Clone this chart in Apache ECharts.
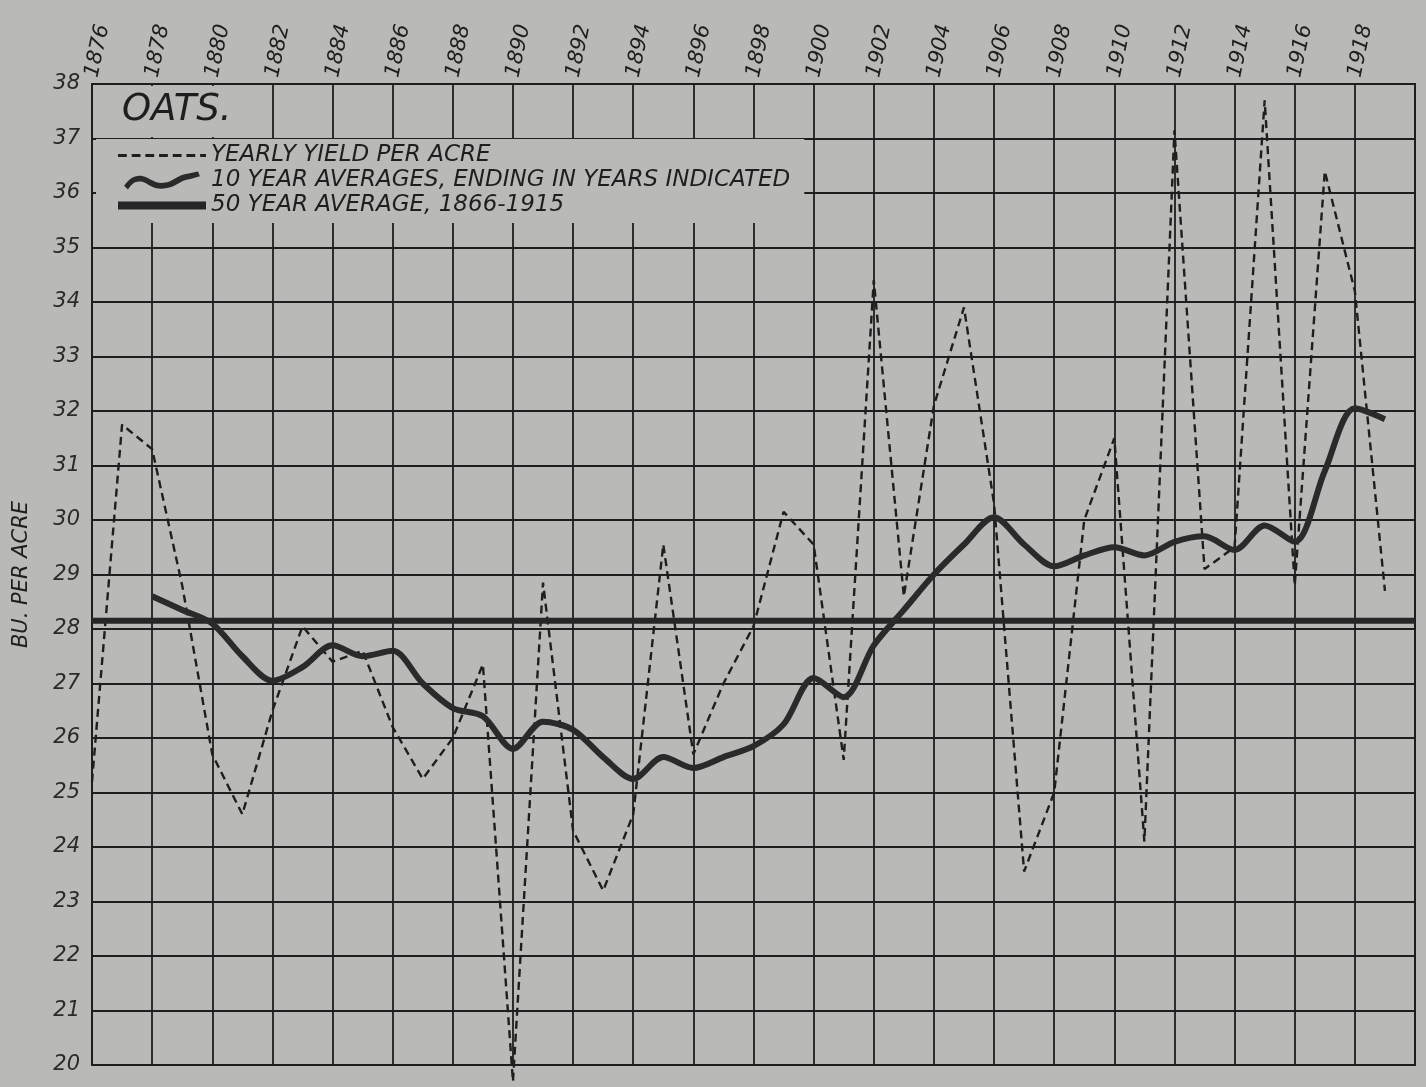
<!DOCTYPE html>
<html>
<head>
<meta charset="utf-8">
<script src="https://cdn.jsdelivr.net/npm/echarts@6/dist/echarts.min.js"></script>
<style>
  html, body { margin: 0; padding: 0; background: #b9bab7; }
  #chart { width: 1426px; height: 1087px; }
</style>
</head>
<body>
<div id="chart"></div>
<script>
// ---- data ----
const years = [1876,1877,1878,1879,1880,1881,1882,1883,1884,1885,1886,1887,1888,1889,1890,1891,1892,1893,1894,1895,1896,1897,1898,1899,1900,1901,1902,1903,1904,1905,1906,1907,1908,1909,1910,1911,1912,1913,1914,1915,1916,1917,1918,1919];
const yearlyYield = [25.2,31.75,31.3,28.8,25.7,24.6,26.5,28.05,27.4,27.6,26.2,25.25,26.0,27.35,19.7,28.85,24.3,23.2,24.6,29.55,25.7,27.0,28.05,30.15,29.55,25.6,34.4,28.6,32.1,33.9,30.3,23.55,25.0,30.0,31.5,24.1,37.15,29.1,29.5,37.7,28.8,36.4,34.2,28.7];
const avgYears = [1878,1879,1880,1881,1882,1883,1884,1885,1886,1887,1888,1889,1890,1891,1892,1893,1894,1895,1896,1897,1898,1899,1900,1901,1902,1903,1904,1905,1906,1907,1908,1909,1910,1911,1912,1913,1914,1915,1916,1917,1918,1919];
const tenYearAvg = [28.6,28.35,28.1,27.5,27.05,27.3,27.7,27.5,27.6,27.0,26.55,26.4,25.8,26.3,26.15,25.65,25.25,25.65,25.45,25.65,25.85,26.25,27.1,26.75,27.7,28.35,29.0,29.55,30.05,29.55,29.15,29.35,29.5,29.35,29.6,29.7,29.45,29.9,29.6,30.9,32.05,31.85];
const fiftyYearAvg = 28.15;
const xRange = [1876, 1920];
const xStep = 2;
const yRange = [20, 38];
const yStep = 1;
const seriesNames = ['YEARLY YIELD PER ACRE', '10 YEAR AVERAGES, ENDING IN YEARS INDICATED', '50 YEAR AVERAGE, 1866-1915'];
const chartTitle = 'OATS.';
const yAxisName = 'BU. PER ACRE';

// ---- styling ----
const paper = '#b9bab7';
const ink = '#1e1e1e';
const font = 'DejaVu Sans';

const chart = echarts.init(document.getElementById('chart'));
chart.setOption({
  animation: false,
  backgroundColor: paper,
  title: {
    text: chartTitle,
    left: 96, top: 86,
    padding: [6, 30, 8, 26],
    backgroundColor: paper,
    textStyle: { fontFamily: font, fontStyle: 'italic', fontWeight: 'normal', fontSize: 37, color: ink }
  },
  legend: {
    orient: 'vertical',
    left: 96, top: 139,
    padding: [5, 14, 6, 22],
    backgroundColor: paper,
    itemWidth: 88, itemHeight: 18, itemGap: 2,
    selectedMode: false,
    textStyle: { fontFamily: font, fontStyle: 'italic', fontSize: 23, color: ink },
    data: [
      { name: seriesNames[0], icon: 'path://M0,0H9V3H0Z M14,0H23V3H14Z M28,0H37V3H28Z M42,0H51V3H42Z M56,0H65V3H56Z M70,0H79V3H70Z M84,0H90V3H84Z' },
      { name: seriesNames[1], icon: 'path://M2,16 C8,8 14,4 22,6 C30,8 34,14 44,13 C54,12 58,4 70,3 L80,1 L82,6 L72,9 C60,10 58,18 44,19 C32,20 28,14 22,12 C14,10 10,14 6,20 Z' },
      { name: seriesNames[2], icon: 'path://M0,0 H90 V8 H0 Z' }
    ]
  },
  grid: {
    left: 92, right: 11, top: 84, bottom: 22,
    show: true, backgroundColor: paper, borderColor: ink, borderWidth: 2
  },
  xAxis: {
    type: 'value', position: 'top',
    min: xRange[0], max: xRange[1], interval: xStep,
    axisLine: { show: true, lineStyle: { color: ink, width: 2 } },
    axisTick: { show: false },
    splitLine: { show: true, lineStyle: { color: ink, width: 1.8 } },
    axisLabel: {
      rotate: -78, margin: 7,
      fontFamily: font, fontStyle: 'italic', fontSize: 21, color: ink,
      formatter: v => (v >= xRange[1] ? '' : String(v))
    }
  },
  yAxis: {
    type: 'value',
    min: yRange[0], max: yRange[1], interval: yStep,
    name: yAxisName, nameLocation: 'middle', nameGap: 60,
    nameTextStyle: { fontFamily: font, fontStyle: 'italic', fontSize: 21, color: ink },
    axisLine: { show: true, lineStyle: { color: ink, width: 2 } },
    axisTick: { show: false },
    splitLine: { show: true, lineStyle: { color: ink, width: 1.8 } },
    axisLabel: { margin: 12, fontFamily: font, fontStyle: 'italic', fontSize: 21, color: '#2a2a2a' }
  },
  series: [
    {
      name: seriesNames[0], type: 'line', symbol: 'none', clip: false, z: 3,
      data: years.map((y, i) => [y, yearlyYield[i]]),
      lineStyle: { color: ink, width: 2.4, type: [8, 5] },
      itemStyle: { color: ink }
    },
    {
      name: seriesNames[1], type: 'line', symbol: 'none', smooth: 0.3, z: 4,
      data: avgYears.map((y, i) => [y, tenYearAvg[i]]),
      lineStyle: { color: '#2a2a2a', width: 6 },
      itemStyle: { color: '#2a2a2a' }
    },
    {
      name: seriesNames[2], type: 'line', symbol: 'none', z: 3,
      data: [[xRange[0], fiftyYearAvg], [xRange[1], fiftyYearAvg]],
      lineStyle: { color: '#262626', width: 6 },
      itemStyle: { color: '#262626' }
    }
  ]
});
</script>
</body>
</html>
